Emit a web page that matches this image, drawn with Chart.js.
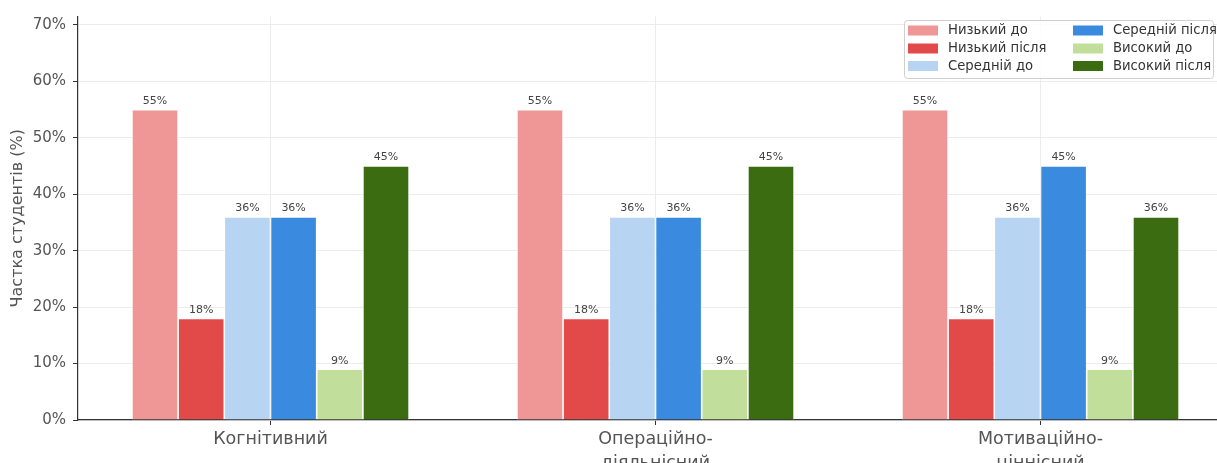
<!DOCTYPE html>
<html>
<head>
<meta charset="utf-8">
<script src="https://cdn.jsdelivr.net/npm/chart.js@4/dist/chart.umd.min.js"></script>
<style>
  html, body { margin: 0; padding: 0; background: #fff; overflow: hidden; }
  #wrap { width: 1217px; height: 463px; overflow: hidden; position: relative; }
  canvas { display: block; }
</style>
</head>
<body>
<div id="wrap"><canvas id="c" width="1240" height="480"></canvas></div>
<script>
// Components of student readiness (x categories)
const categories = ['Когнітивний', ['Операційно-', 'діяльнісний'], ['Мотиваційно-', 'ціннісний']];

// Share of students per level, before / after (%)
const lowBefore  = [55, 55, 55];
const lowAfter   = [18, 18, 18];
const midBefore  = [36, 36, 36];
const midAfter   = [36, 36, 45];
const highBefore = [9, 9, 9];
const highAfter  = [45, 45, 36];

const seriesLabels = ['Низький до', 'Низький після', 'Середній до', 'Середній після', 'Високий до', 'Високий після'];
const seriesValues = [lowBefore, lowAfter, midBefore, midAfter, highBefore, highAfter];
const seriesColors = ['#ef9696', '#e24a4a', '#b7d4f2', '#3a8ae0', '#c2de9b', '#3b6c12'];

const yTicks = [0, 10, 20, 30, 40, 50, 60, 70];
const yMax = 71.5;

const FONT = '"DejaVu Sans", sans-serif';

// Value labels above each bar
const valueLabels = {
  id: 'valueLabels',
  afterDatasetsDraw(chart) {
    const ctx = chart.ctx;
    ctx.save();
    ctx.font = '11px ' + FONT;
    ctx.fillStyle = '#444';
    ctx.textAlign = 'center';
    ctx.textBaseline = 'bottom';
    chart.data.datasets.forEach((ds, di) => {
      chart.getDatasetMeta(di).data.forEach((bar, i) => {
        ctx.fillText(ds.data[i] + '%', bar.x, bar.y - 3);
      });
    });
    ctx.restore();
  }
};

// Two-column legend box in the upper right of the plot
const gridLegend = {
  id: 'gridLegend',
  afterDraw(chart) {
    const ctx = chart.ctx;
    const x0 = 904, y0 = 20, w = 309, h = 58;
    ctx.save();
    ctx.beginPath();
    ctx.roundRect(x0 + 0.5, y0 + 0.5, w, h, 3);
    ctx.fillStyle = 'rgba(255,255,255,0.85)';
    ctx.fill();
    ctx.strokeStyle = '#d0d0d0';
    ctx.lineWidth = 1;
    ctx.stroke();
    ctx.font = '13.2px ' + FONT;
    ctx.textBaseline = 'middle';
    ctx.textAlign = 'left';
    const colX = [908, 1073];
    const rowY = [30.5, 48.5, 66];
    chart.data.datasets.forEach((ds, i) => {
      const col = Math.floor(i / 3), row = i % 3;
      const px = colX[col], py = rowY[row];
      ctx.fillStyle = ds.backgroundColor;
      ctx.fillRect(px, py - 5, 30, 10);
      ctx.fillStyle = '#333';
      ctx.fillText(ds.label, px + 40, py + 0.5);
    });
    ctx.restore();
  }
};

const datasets = seriesLabels.map((label, i) => ({
  label: label,
  data: seriesValues[i],
  backgroundColor: seriesColors[i],
  borderColor: '#ffffff',
  borderWidth: 0.8,
  categoryPercentage: 0.72,
  barPercentage: 1.0
}));

new Chart(document.getElementById('c'), {
  type: 'bar',
  data: { labels: categories, datasets: datasets },
  options: {
    responsive: false,
    devicePixelRatio: 1,
    animation: false,
    layout: { padding: { top: 16.5, right: 7, left: 0, bottom: 0 } },
    plugins: {
      legend: { display: false },
      tooltip: { enabled: false }
    },
    scales: {
      x: {
        offset: true,
        grid: {
          offset: false,
          color: '#ececec',
          lineWidth: 1,
          drawTicks: true,
          tickLength: 5,
          tickColor: '#333'
        },
        border: { color: '#333', width: 1.2 },
        ticks: {
          font: { family: FONT, size: 17.5, lineHeight: 1.34 },
          color: '#555',
          padding: 3,
          maxRotation: 0,
          autoSkip: false
        },
        afterFit(scale) { scale.height = 60; }
      },
      y: {
        min: 0,
        max: yMax,
        grid: {
          color: '#ececec',
          lineWidth: 1,
          tickLength: 5,
          tickColor: '#333'
        },
        border: { color: '#333', width: 1.2 },
        ticks: {
          stepSize: 10,
          font: { family: FONT, size: 15 },
          color: '#555',
          padding: 7,
          callback: (v) => v + '%'
        },
        afterBuildTicks(scale) {
          scale.ticks = yTicks.map(v => ({ value: v }));
        },
        title: {
          display: true,
          text: 'Частка студентів (%)',
          font: { family: FONT, size: 16 },
          color: '#555',
          padding: { top: 8, bottom: 0 }
        },
        afterFit(scale) { scale.width = 78; }
      }
    }
  },
  plugins: [valueLabels, gridLegend]
});
</script>
</body>
</html>
